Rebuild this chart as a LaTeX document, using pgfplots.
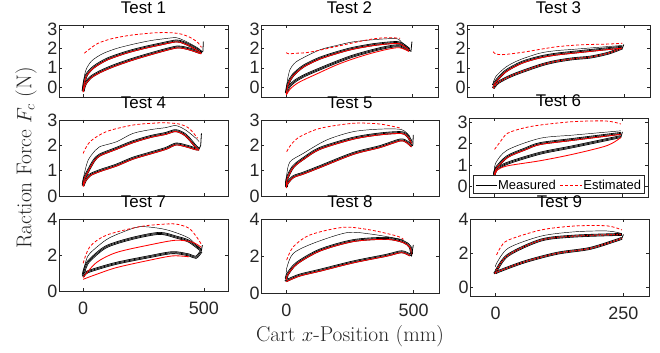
\documentclass[border=0pt]{standalone}
\usepackage{fontspec}
\newfontfamily\arial{Liberation Sans}
\usepackage{pgfplots}
\pgfplotsset{compat=1.18}
\definecolor{axgray}{rgb}{0.15,0.15,0.15}
\definecolor{estred}{rgb}{1,0,0}
\pgfplotsset{
 panel/.style={
  scale only axis, anchor=south west,
  axis line style={axgray, line width=0.5pt},
  tick style={axgray, line width=0.5pt},
  major tick length=3pt, tick align=inside,
  tick label style={font=\arial\fontsize{18}{18}\selectfont, text=axgray},
  /pgf/number format/assume math mode=true,
  title style={font=\arial\fontsize{17}{17}\selectfont, text=black, at={(0.5,1)}, anchor=south, inner sep=0pt, yshift=5pt},
  yticklabel style={xshift=2pt},
  xticklabel style={yshift=-7pt},
 },
 colA/.style={xmin=-100,xmax=600, xtick={0,500}},
 colC/.style={xmin=-50,xmax=300, xtick={0,250}},
 rowA/.style={ytick={0,1,2,3}},
 rowC/.style={ytick={0,2,4}},
 nolab/.style={xticklabels={}},
 meas/.style={black, line width=0.45pt, smooth, tension=0.5},
 bundle/.style={black, line width=0.7pt, smooth, tension=0.5, preaction={draw=white, line width=1.0pt, preaction={draw=black, line width=2.7pt}}},
 estS/.style={red, line width=0.85pt, smooth, tension=0.5, yshift=-0.9pt},
 estD/.style={red, line width=0.8pt, dash pattern=on 3pt off 2pt, smooth, tension=0.5},
 estDB/.style={red, line width=1.2pt, dash pattern=on 1.5pt off 1.5pt, smooth, tension=0.5},
 hook/.style={black, line width=0.8pt},
}
\begin{document}
\begin{tikzpicture}
\path[use as bounding box] (0bp,0bp) rectangle (660bp,353bp);

% ---------------- Test 1
\begin{axis}[panel, colA, rowA, nolab, at={(59bp,256bp)}, width=169bp, height=72bp, ymin=-0.5, ymax=3.2, title={Test 1}]
\addplot[bundle] coordinates {(0,-0.2)(4,0.2)(15,0.65)(45,1.05)(100,1.45)(180,1.8)(250,2.03)(320,2.22)(385,2.38)(415,2.3)(450,2.1)(480,1.88)(490,1.8)};
\addplot[bundle] coordinates {(0,-0.2)(8,0.15)(30,0.5)(70,0.8)(130,1.12)(207,1.45)(280,1.72)(347,1.95)(390,2.07)(420,2.03)(450,1.93)(480,1.8)(490,1.77)};
\addplot[meas] coordinates {(0,-0.1)(3,0.4)(12,0.9)(35,1.35)(80,1.72)(140,2.0)(210,2.22)(280,2.4)(340,2.5)(385,2.55)(415,2.42)(450,2.2)(480,1.98)(490,1.85)};
\addplot[estS] coordinates {(0,-0.2)(4,0.2)(15,0.65)(45,1.05)(100,1.45)(180,1.8)(250,2.03)(320,2.22)(385,2.38)(415,2.3)(450,2.1)(480,1.88)(490,1.8)};
\addplot[estS] coordinates {(0,-0.2)(8,0.15)(30,0.5)(70,0.8)(130,1.12)(207,1.45)(280,1.72)(347,1.95)(390,2.07)(420,2.03)(450,1.93)(480,1.8)(490,1.77)};
\addplot[estD] coordinates {(5,1.75)(20,1.9)(60,2.25)(120,2.5)(200,2.68)(300,2.8)(370,2.8)(410,2.72)(445,2.55)(475,2.3)(490,2.05)};
\addplot[hook] coordinates {(488,1.77)(496,1.85)(498,2.35)};
\end{axis}

% ---------------- Test 2
\begin{axis}[panel, colA, rowA, nolab, at={(261bp,256bp)}, width=177bp, height=72bp, ymin=-0.5, ymax=3.2, title={Test 2}]
\addplot[bundle] coordinates {(0,-0.3)(8,0.2)(27,0.63)(70,1.1)(132,1.49)(200,1.78)(263,2.0)(350,2.2)(434,2.3)(460,2.2)(486,1.95)};
\addplot[bundle] coordinates {(0,-0.3)(12,0.05)(40,0.37)(80,0.65)(132,0.94)(200,1.3)(263,1.6)(330,1.85)(394,2.05)(447,2.13)(486,1.9)};
\addplot[meas] coordinates {(0,-0.1)(5,0.4)(14,0.89)(30,1.2)(53,1.42)(132,1.92)(200,2.15)(263,2.33)(350,2.45)(434,2.5)(455,2.33)(486,2.0)};
\addplot[estS] coordinates {(0,-0.35)(15,-0.05)(50,0.3)(132,0.8)(200,1.2)(263,1.5)(330,1.77)(394,1.98)(447,2.08)(486,1.88)};
\addplot[estS] coordinates {(0,-0.3)(8,0.2)(27,0.63)(70,1.1)(132,1.49)(200,1.78)(263,2.0)(350,2.2)(434,2.3)(460,2.2)(486,1.95)};
\addplot[estD] coordinates {(0,1.78)(10,1.72)(40,1.75)(80,1.78)(130,1.9)(200,2.1)(270,2.3)(340,2.48)(400,2.55)(450,2.52)};
\addplot[hook] coordinates {(486,1.9)(493,1.85)(497,2.35)};
\end{axis}

% ---------------- Test 3
\begin{axis}[panel, colC, rowA, nolab, at={(467bp,256bp)}, width=183bp, height=72bp, ymin=-0.5, ymax=3.2, title={Test 3}]
\addplot[bundle] coordinates {(0,0.1)(8,0.4)(25,0.85)(55,1.28)(89,1.55)(120,1.7)(154,1.8)(200,1.93)(247,2.06)};
\addplot[bundle] coordinates {(0,-0.05)(10,0.25)(38,0.63)(89,1.12)(120,1.33)(154,1.47)(186,1.55)(220,1.75)(247,2.02)};
\addplot[meas] coordinates {(0,0.2)(5,0.55)(25,1.05)(50,1.4)(89,1.75)(120,1.88)(154,1.95)(200,2.05)(247,2.15)};
\addplot[estS] coordinates {(0,0.1)(8,0.4)(25,0.85)(55,1.28)(89,1.55)(120,1.7)(154,1.8)(200,1.93)(247,2.06)};
\addplot[estDB] coordinates {(0,-0.05)(10,0.25)(38,0.63)(89,1.12)(120,1.33)(154,1.47)(186,1.55)(220,1.75)(247,2.02)};
\addplot[estD] coordinates {(0,1.83)(5,1.71)(20,1.68)(57,1.8)(90,1.95)(121,2.08)(155,2.16)(186,2.2)(220,2.22)(247,2.26)};
\addplot[hook] coordinates {(247,2.0)(250,2.2)};
\end{axis}

% ---------------- Test 4
\begin{axis}[panel, colA, rowA, nolab, at={(59bp,157bp)}, width=169bp, height=76bp, ymin=0, ymax=3, title={Test 4},
  ylabel={Raction Force $F_c$ (N)}, ylabel style={font=\fontsize{21.5}{22}\selectfont, text=axgray, at={(axis description cs:-0.164,0.5)}, anchor=base}]
\addplot[bundle] coordinates {(0,0.45)(5,0.7)(21,1.0)(45,1.4)(69,1.62)(138,1.88)(206,2.14)(280,2.35)(343,2.47)(384,2.58)(425,2.4)(467,1.95)(480,1.85)};
\addplot[bundle] coordinates {(0,0.4)(8,0.6)(28,0.83)(69,1.0)(138,1.22)(206,1.49)(280,1.7)(343,1.88)(384,2.05)(425,1.98)(467,1.86)(480,1.85)};
\addplot[meas] coordinates {(0,0.6)(5,0.89)(21,1.42)(50,1.8)(69,1.95)(138,2.14)(206,2.47)(280,2.62)(343,2.7)(384,2.78)(425,2.6)(467,2.28)(480,2.15)};
\addplot[estS] coordinates {(0,0.45)(5,0.7)(21,1.0)(45,1.4)(69,1.62)(138,1.88)(206,2.14)(280,2.35)(343,2.47)(384,2.58)(425,2.4)(467,1.95)(480,1.85)};
\addplot[estS] coordinates {(0,0.4)(8,0.6)(28,0.83)(69,1.0)(138,1.22)(206,1.49)(280,1.7)(343,1.88)(384,2.05)(425,1.98)(467,1.86)(480,1.85)};
\addplot[estD] coordinates {(0,1.68)(28,2.14)(96,2.54)(206,2.8)(300,2.88)(343,2.89)(398,2.84)(439,2.67)(474,2.28)};
\addplot[hook] coordinates {(480,1.85)(487,2.0)(490,2.47)};
\end{axis}

% ---------------- Test 5
\begin{axis}[panel, colA, rowA, nolab, at={(261bp,157bp)}, width=178bp, height=76bp, ymin=0, ymax=3, title={Test 5}]
\addplot[bundle] coordinates {(0,0.4)(3,0.7)(27,1.16)(70,1.5)(132,1.88)(263,2.28)(368,2.45)(453,2.5)(479,2.34)(492,2.1)};
\addplot[bundle] coordinates {(0,0.35)(3,0.5)(27,0.76)(66,0.9)(132,1.16)(263,1.68)(368,1.95)(447,2.21)(473,2.14)(492,1.97)};
\addplot[meas] coordinates {(0,0.55)(1,0.83)(14,1.35)(66,1.68)(158,2.21)(263,2.54)(368,2.64)(453,2.62)(486,2.34)};
\addplot[estS] coordinates {(0,0.4)(3,0.7)(27,1.16)(70,1.5)(132,1.88)(263,2.28)(368,2.45)(453,2.5)(479,2.34)(492,2.1)};
\addplot[estS] coordinates {(0,0.35)(3,0.5)(27,0.76)(66,0.9)(132,1.16)(263,1.68)(368,1.95)(447,2.21)(473,2.14)(492,1.97)};
\addplot[estD] coordinates {(1,1.75)(20,2.05)(53,2.34)(132,2.67)(263,2.87)(368,2.84)(453,2.67)};
\addplot[hook] coordinates {(492,1.97)(497,2.0)(499,2.41)};
\end{axis}

% ---------------- Test 6
\begin{axis}[panel, colC, rowA, nolab, at={(469bp,156bp)}, width=179bp, height=79bp, ymin=-0.5, ymax=3.2, title={Test 6}]
\addplot[bundle] coordinates {(0,0.55)(3,0.85)(25,1.39)(60,1.75)(89,2.0)(154,2.2)(247,2.48)};
\addplot[bundle] coordinates {(0,0.55)(3,0.78)(25,1.08)(89,1.55)(154,1.86)(247,2.33)};
\addplot[meas] coordinates {(0,0.6)(2,1.08)(25,1.7)(89,2.25)(154,2.4)(247,2.6)};
\addplot[estS] coordinates {(0,0.55)(5,0.8)(25,1.0)(89,1.24)(154,1.55)(220,1.95)(247,2.33)};
\addplot[estS] coordinates {(0,0.55)(3,0.85)(25,1.39)(60,1.75)(89,2.0)(154,2.2)(247,2.48)};
\addplot[estD] coordinates {(0,1.73)(10,2.05)(25,2.48)(55,2.72)(89,2.87)(154,3.03)(218,3.06)(247,2.92)};
\addplot[hook] coordinates {(247,2.3)(250,2.55)};
% legend box and samples
\draw[draw=axgray, fill=white, line width=0.5pt] (axis description cs:0.022,0.044) rectangle (axis description cs:0.978,0.278);
\addplot[black, line width=0.7pt, forget plot] coordinates {(-36.4,0.062)(4.3,0.062)};
\addplot[draw=estred, color=estred, line width=0.9pt, dash pattern=on 3pt off 2pt, forget plot] coordinates {(127.8,0.062)(170.2,0.062)};
\node[anchor=base west, inner sep=0pt, font=\arial\fontsize{13}{13}\selectfont, text=black] at (axis description cs:0.162,0.089) {Measured};
\node[anchor=base west, inner sep=0pt, font=\arial\fontsize{13}{13}\selectfont, text=black] at (axis description cs:0.638,0.089) {Estimated};
\end{axis}

% ---------------- Test 7
\begin{axis}[panel, colA, rowC, at={(59bp,62bp)}, width=169bp, height=72bp, ymin=0, ymax=4, title={Test 7}]
\addplot[bundle] coordinates {(0,0.9)(10,1.35)(28,1.72)(96,2.46)(206,2.93)(316,3.2)(384,3.0)(439,2.76)(489,2.26)};
\addplot[bundle] coordinates {(0,0.8)(10,1.0)(41,1.17)(138,1.54)(275,1.91)(371,2.13)(439,2.0)(467,1.87)(489,2.2)};
\addplot[meas] coordinates {(0,0.98)(10,1.6)(28,2.09)(96,2.85)(160,3.25)(233,3.57)(316,3.48)(371,3.3)(439,2.93)(480,2.37)};
\addplot[estS] coordinates {(0,0.8)(55,1.63)(138,2.19)(275,2.61)(384,2.87)(453,2.76)(489,2.48)};
\addplot[estS] coordinates {(0,0.7)(50,0.95)(138,1.35)(275,1.76)(371,2.0)(439,1.95)};
\addplot[estD] coordinates {(0,1.54)(28,2.46)(96,3.1)(233,3.57)(320,3.7)(384,3.72)(439,3.48)(474,2.93)(489,2.6)};
\addplot[hook] coordinates {(489,2.2)(494,2.55)};
\end{axis}

% ---------------- Test 8
\begin{axis}[panel, colA, rowC, at={(261bp,60bp)}, width=178bp, height=74bp, ymin=0, ymax=4, title={Test 8},
  xlabel={Cart $x$-Position (mm)}, xlabel style={font=\fontsize{21.5}{22}\selectfont, text=axgray, at={(axis description cs:0.5,-0.662)}, anchor=base}]
\addplot[bundle] coordinates {(0,0.75)(3,0.98)(40,1.6)(132,2.32)(263,2.83)(394,2.95)(460,2.77)(486,2.5)(492,2.1)};
\addplot[bundle] coordinates {(0,0.65)(5,0.7)(53,0.97)(132,1.23)(263,1.68)(394,2.04)(453,2.23)(486,2.05)};
\addplot[meas] coordinates {(0,1.0)(1,1.34)(27,2.14)(106,2.69)(237,3.26)(329,3.19)(434,2.95)(460,2.86)};
\addplot[estS] coordinates {(0,0.75)(3,0.98)(40,1.6)(132,2.32)(263,2.83)(394,2.95)(460,2.77)(486,2.5)(492,2.1)};
\addplot[estS] coordinates {(0,0.65)(5,0.7)(53,0.97)(132,1.23)(263,1.68)(394,2.04)(453,2.23)(486,2.05)};
\addplot[estD] coordinates {(1,1.78)(27,2.5)(93,3.14)(224,3.55)(329,3.41)(434,3.08)(460,2.9)};
\addplot[hook] coordinates {(486,2.05)(492,2.0)(499,2.6)};
\end{axis}

% ---------------- Test 9
\begin{axis}[panel, colC, rowC, at={(470bp,57bp)}, width=179bp, height=77bp, ymin=-0.5, ymax=4, title={Test 9}]
\addplot[bundle] coordinates {(0,0.83)(2,1.02)(25,1.9)(89,2.77)(154,3.0)(247,3.1)};
\addplot[bundle] coordinates {(0,0.83)(5,0.93)(57,1.5)(121,2.0)(186,2.29)(247,2.87)};
\addplot[meas] coordinates {(0,1.2)(2,1.41)(25,2.3)(89,3.0)(154,3.25)(218,3.3)(247,3.15)};
\addplot[estDB] coordinates {(0,0.83)(2,1.02)(25,1.9)(89,2.77)(154,3.0)(247,3.1)};
\addplot[estDB] coordinates {(0,0.83)(5,0.93)(57,1.5)(121,2.0)(186,2.29)(247,2.87)};
\addplot[estD] coordinates {(2,1.9)(10,2.35)(25,2.77)(89,3.36)(154,3.59)(218,3.6)(247,3.36)};
\addplot[hook] coordinates {(247,2.87)(250,3.1)};
\end{axis}
\end{tikzpicture}
\end{document}
